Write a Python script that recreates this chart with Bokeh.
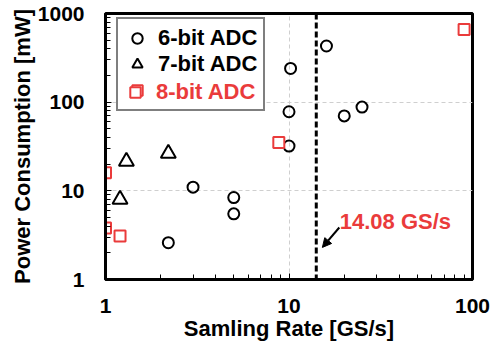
from bokeh.plotting import figure
from bokeh.models import (Legend, LegendItem, Span, Arrow, NormalHead, Label,
                          LogTickFormatter, ColumnDataSource)
from bokeh.embed import file_html
from bokeh.resources import INLINE

# ---- data ----
rate_6bit = [2.2, 3.0, 5.0, 5.0, 10.0, 10.2, 10.0, 16.0, 20.0, 25.0]
power_6bit = [2.6, 11.0, 8.4, 5.5, 78.0, 240.0, 32.0, 430.0, 70.0, 88.0]
rate_7bit = [1.2, 1.3, 2.2]
power_7bit = [8.0, 21.5, 26.5]
rate_8bit = [1.0, 1.0, 1.2, 8.8, 90.0]
power_8bit = [16.0, 3.8, 3.1, 35.0, 660.0]
x_min, x_max = 1, 100
y_min, y_max = 1, 1000
limit_rate = 14.08
limit_label = "14.08 GS/s"

FONT = "Liberation Sans"
RED = "#ea3b3b"
INK = "black"

p = figure(width=490, height=348, x_axis_type="log", y_axis_type="log",
           x_range=(x_min, x_max), y_range=(y_min, y_max),
           output_backend="svg", toolbar_location=None,
           min_border_left=105, min_border_right=18,
           min_border_top=13, min_border_bottom=69)

p.outline_line_color = INK
p.outline_line_width = 3
p.outline_line_alpha = 1

for ax in (p.xaxis[0], p.yaxis[0]):
    ax.axis_line_width = 3
    ax.major_tick_in = 6
    ax.major_tick_out = 0
    ax.minor_tick_in = 5
    ax.minor_tick_out = 0
    ax.major_label_text_font = FONT
    ax.major_label_text_font_style = "bold"
    ax.major_label_text_font_size = "21px"
    ax.major_label_text_color = INK
    ax.axis_label_text_font = FONT
    ax.axis_label_text_font_style = "bold"
    ax.axis_label_text_font_size = "22px"
    ax.axis_label_text_color = INK
    ax.formatter = LogTickFormatter(min_exponent=4)

p.xaxis.axis_label = "Samling Rate [GS/s]"
p.yaxis.axis_label = "Power Consumption [mW]"
p.xaxis.major_label_standoff = 19
p.yaxis.major_label_standoff = 21
p.xaxis.axis_label_standoff = 0
p.yaxis.axis_label_standoff = 0

p.xgrid.grid_line_color = "#cfcfcf"
p.ygrid.grid_line_color = "#cfcfcf"
p.xgrid.grid_line_dash = "4 3"
p.ygrid.grid_line_dash = "4 3"
p.xgrid.grid_line_width = 1
p.ygrid.grid_line_width = 1

# vertical limit line
p.add_layout(Span(location=limit_rate, dimension="height", line_color=INK,
                  line_width=3, line_dash="6 3"))

s6 = ColumnDataSource(dict(x=rate_6bit, y=power_6bit))
s7 = ColumnDataSource(dict(x=rate_7bit, y=power_7bit))
s8 = ColumnDataSource(dict(x=rate_8bit, y=power_8bit))

r6 = p.scatter("x", "y", source=s6, marker="circle", size=11, line_width=2,
               line_color=INK, fill_color=None)
r7 = p.scatter("x", "y", source=s7, marker="triangle", size=15, line_width=2,
               line_color=INK, fill_color=None)
r8 = p.scatter("x", "y", source=s8, marker="square", size=11, line_width=2,
               line_color=RED, fill_color="white")

# annotation
p.add_layout(Arrow(x_start=18.8, y_start=3.86, x_end=15.2, y_end=2.3,
                   line_width=2, line_color=INK,
                   end=NormalHead(size=9, fill_color=INK, line_color=INK)))
p.add_layout(Label(x=18.9, y=4.5, text=limit_label, text_color=RED,
                   text_font=FONT, text_font_style="bold", text_font_size="22px",
                   text_baseline="middle", text_align="left"))

common = dict(location=(11, 168), padding=6, spacing=-2, glyph_width=26,
              glyph_height=26, label_standoff=8, label_height=20,
              label_text_font=FONT, label_text_font_style="bold",
              label_text_font_size="22px", margin=0)

leg_a = Legend(items=[LegendItem(label="6-bit ADC", renderers=[r6]),
                      LegendItem(label="7-bit ADC", renderers=[r7]),
                      LegendItem(label="", renderers=[r8])],
               border_line_color=INK, border_line_width=2,
               background_fill_color="white", background_fill_alpha=1,
               label_text_color=INK, **common)
leg_b = Legend(items=[LegendItem(label="8-bit ADC", renderers=[r8])],
               border_line_alpha=0, background_fill_alpha=0,
               label_text_color=RED, **common)
p.add_layout(leg_a, "center")
p.add_layout(leg_b, "center")

open("out.html", "w").write(file_html(p, INLINE))
